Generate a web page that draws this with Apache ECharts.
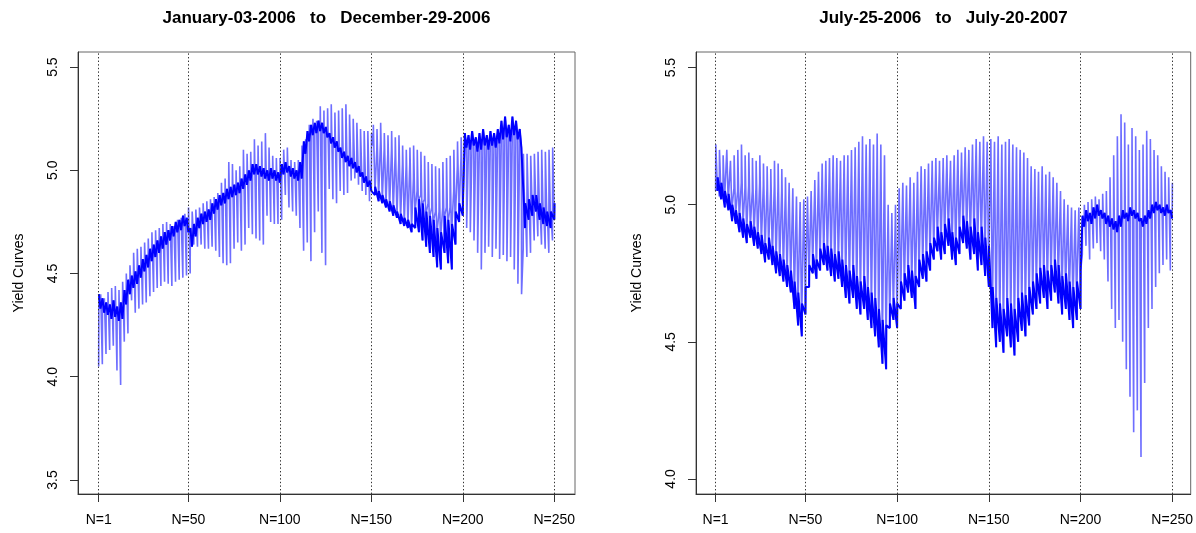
<!DOCTYPE html>
<html>
<head>
<meta charset="utf-8">
<script src="https://cdn.jsdelivr.net/npm/echarts@6/dist/echarts.min.js"></script>
<style>
html,body{margin:0;padding:0;background:#fff;}
#c{width:1196px;height:533px;}
</style>
</head>
<body>
<div id="c"></div>
<script>
// ---------- data ----------
const leftTitle = 'January-03-2006   to   December-29-2006';
const rightTitle = 'July-25-2006   to   July-20-2007';
const tickDays = [1, 50, 100, 150, 200, 250];
const tickLabels = ['N=1', 'N=50', 'N=100', 'N=150', 'N=200', 'N=250'];
const leftYTicks = [3.5, 4.0, 4.5, 5.0, 5.5];
const rightYTicks = [4.0, 4.5, 5.0, 5.5];
const firstDay = 1;
const dayStep = 2; // one curve drawn for every second trading day

// left panel: yields per curve (short end, 6m, 2y, long end)
const L_m1 = [4.05,4.06,4.11,4.13,4.15,4.03,3.96,4.17,4.21,4.37,4.31,4.33,4.35,4.36,4.39,4.41,4.43,4.44,4.46,4.45,4.44,4.46,4.47,4.48,4.49,
  4.50,4.64,4.63,4.64,4.62,4.62,4.63,4.61,4.58,4.55,4.54,4.55,4.62,4.65,4.61,4.64,4.72,4.69,4.67,4.66,4.64,4.78,4.75,4.74,4.74,
  4.76,4.88,4.82,4.80,4.78,4.72,4.61,4.65,4.56,4.70,4.80,4.60,4.54,4.91,4.86,4.84,4.90,4.88,4.89,4.95,4.96,4.93,4.90,4.88,4.85,
  5.12,5.10,5.14,5.10,5.08,5.10,5.07,5.05,5.03,5.02,5.03,4.96,4.90,4.88,4.86,4.84,4.82,4.80,4.80,4.82,4.82,4.82,4.90,5.02,5.06,
  5.10,5.08,5.11,5.09,5.10,5.11,5.10,5.12,5.11,5.12,5.14,5.15,5.13,5.15,5.14,5.10,4.62,4.58,4.60,4.66,4.68,4.64,4.62,4.60,4.66];
const L_m6 = [4.40,4.38,4.36,4.35,4.37,4.34,4.36,4.42,4.47,4.49,4.51,4.54,4.57,4.59,4.62,4.64,4.66,4.68,4.70,4.71,4.73,4.75,4.76,4.78,4.77,
  4.72,4.74,4.77,4.79,4.80,4.81,4.84,4.86,4.88,4.89,4.91,4.92,4.93,4.94,4.96,4.98,5.00,5.03,5.03,5.02,5.01,5.00,5.01,5.00,4.99,
  5.03,5.04,5.02,5.01,5.00,5.04,5.14,5.19,5.22,5.23,5.24,5.23,5.21,5.18,5.16,5.14,5.11,5.09,5.07,5.06,5.04,5.02,4.99,4.97,4.95,
  5.22,5.20,5.23,5.18,5.17,5.19,5.16,5.17,5.12,5.10,5.11,5.12,5.10,5.09,5.07,5.04,5.03,5.02,5.01,5.04,5.06,5.07,5.10,5.14,5.16,
  5.18,5.17,5.19,5.16,5.18,5.20,5.17,5.19,5.18,5.20,5.24,5.26,5.22,5.26,5.24,5.20,5.08,5.08,5.07,5.08,5.09,5.10,5.09,5.10,5.11];
const L_y2 = [4.33,4.31,4.30,4.28,4.29,4.27,4.28,4.35,4.40,4.43,4.45,4.48,4.51,4.53,4.56,4.58,4.60,4.62,4.64,4.66,4.68,4.70,4.71,4.73,4.70,
  4.63,4.68,4.72,4.74,4.75,4.76,4.79,4.81,4.83,4.84,4.86,4.87,4.88,4.89,4.91,4.93,4.95,4.98,4.98,4.97,4.96,4.95,4.96,4.95,4.94,
  4.98,4.99,4.97,4.96,4.95,4.96,5.08,5.14,5.17,5.18,5.19,5.18,5.16,5.13,5.11,5.09,5.06,5.04,5.02,5.01,4.99,4.97,4.94,4.92,4.90,
  4.88,4.85,4.84,4.82,4.80,4.78,4.77,4.74,4.73,4.72,4.70,4.72,4.70,4.66,4.63,4.60,4.58,4.53,4.52,4.60,4.55,4.52,4.64,4.75,4.78,
  5.11,5.10,5.12,5.09,5.10,5.12,5.10,5.12,5.11,5.13,5.15,5.16,5.14,5.17,5.15,5.11,4.72,4.76,4.78,4.80,4.76,4.74,4.73,4.72,4.76];
const L_y30 = [4.40,4.38,4.41,4.43,4.44,4.42,4.46,4.50,4.54,4.60,4.62,4.63,4.65,4.67,4.70,4.71,4.72,4.74,4.75,4.74,4.73,4.76,4.77,4.79,4.82,
  4.80,4.81,4.82,4.84,4.85,4.86,4.87,4.89,4.94,4.96,5.04,5.03,5.00,5.02,5.10,5.08,5.09,5.15,5.12,5.14,5.18,5.11,5.07,5.06,5.06,
  5.10,5.11,5.05,5.04,5.05,5.12,5.15,5.22,5.25,5.24,5.31,5.29,5.30,5.32,5.28,5.29,5.30,5.32,5.27,5.25,5.23,5.20,5.19,5.19,5.18,
  4.92,4.90,4.88,4.86,4.85,4.83,4.80,4.79,4.77,4.76,4.74,4.82,4.86,4.84,4.80,4.78,4.76,4.72,4.70,4.78,4.76,4.74,4.80,4.84,4.86,
  4.72,4.70,4.66,4.60,4.52,4.60,4.63,4.58,4.62,4.57,4.59,4.56,4.58,4.52,4.45,4.40,4.84,4.86,4.88,4.88,4.84,4.82,4.80,4.80,4.84];

// right panel
const R_m1 = [5.05,5.03,5.02,5.05,5.04,5.06,5.05,5.08,5.06,5.07,5.05,5.06,5.08,5.07,5.06,5.05,5.07,5.06,5.05,5.04,5.05,5.03,5.00,4.98,4.99,
  5.00,5.02,5.05,5.08,5.10,5.12,5.13,5.14,5.13,5.12,5.14,5.13,5.14,5.15,5.17,5.18,5.17,5.18,5.17,5.16,5.15,5.12,4.95,4.92,4.95,
  5.02,5.05,5.04,5.06,5.03,5.08,5.10,5.09,5.11,5.12,5.13,5.12,5.13,5.14,5.13,5.15,5.16,5.15,5.17,5.16,5.18,5.20,5.19,5.20,5.19,
  5.18,5.19,5.20,5.18,5.17,5.19,5.18,5.17,5.16,5.15,5.12,5.10,5.09,5.08,5.10,5.07,5.08,5.06,5.04,5.02,4.99,4.97,4.96,4.95,4.96,
  4.82,4.85,4.80,4.84,4.86,4.83,4.80,4.72,4.62,4.55,4.58,4.50,4.40,4.30,4.17,4.25,4.08,4.35,4.55,4.62,4.70,4.75,4.78,4.80,4.76];
const R_m6 = [5.22,5.20,5.18,5.20,5.16,5.18,5.20,5.22,5.18,5.19,5.17,5.16,5.18,5.15,5.14,5.13,5.16,5.15,5.13,5.10,5.08,5.06,5.03,5.01,5.02,
  5.03,5.05,5.09,5.12,5.15,5.16,5.17,5.18,5.17,5.16,5.18,5.18,5.20,5.21,5.23,5.25,5.22,5.24,5.22,5.26,5.22,5.18,5.00,4.97,5.00,
  5.06,5.08,5.07,5.10,5.08,5.12,5.14,5.13,5.15,5.16,5.17,5.16,5.17,5.18,5.16,5.18,5.20,5.19,5.21,5.20,5.22,5.24,5.23,5.25,5.23,
  5.24,5.23,5.25,5.22,5.23,5.24,5.22,5.21,5.20,5.19,5.17,5.14,5.13,5.12,5.14,5.11,5.12,5.10,5.08,5.05,5.02,5.00,4.99,4.98,4.99,
  4.96,4.98,4.97,4.99,5.00,4.98,4.97,4.96,4.95,4.94,4.96,4.98,4.97,4.99,4.98,4.97,4.95,4.96,4.98,5.00,5.01,5.00,4.99,5.00,4.98];
const R_y2 = [5.05,5.02,4.99,4.98,4.94,4.93,4.90,4.88,4.86,4.88,4.85,4.84,4.82,4.79,4.80,4.78,4.75,4.74,4.72,4.70,4.68,4.62,4.56,4.52,4.60,
  4.70,4.75,4.73,4.76,4.78,4.76,4.74,4.72,4.73,4.70,4.66,4.64,4.66,4.62,4.60,4.62,4.58,4.55,4.52,4.48,4.42,4.40,4.55,4.58,4.55,
  4.62,4.65,4.68,4.66,4.62,4.70,4.73,4.72,4.76,4.80,4.83,4.80,4.82,4.85,4.80,4.78,4.82,4.86,4.84,4.80,4.82,4.76,4.78,4.74,4.70,
  4.55,4.48,4.50,4.46,4.52,4.48,4.45,4.50,4.54,4.52,4.56,4.60,4.62,4.64,4.66,4.62,4.65,4.68,4.64,4.60,4.62,4.58,4.55,4.58,4.62,
  4.92,4.94,4.93,4.95,4.96,4.95,4.93,4.92,4.91,4.90,4.92,4.95,4.94,4.96,4.95,4.94,4.92,4.93,4.95,4.97,4.98,4.97,4.96,4.97,4.95];
const R_y30 = [5.10,5.08,5.05,5.04,5.00,4.98,4.97,4.95,4.93,4.94,4.92,4.90,4.89,4.86,4.88,4.85,4.83,4.82,4.80,4.78,4.76,4.72,4.68,4.64,4.70,
  4.78,4.82,4.80,4.84,4.86,4.85,4.84,4.82,4.83,4.80,4.78,4.76,4.78,4.74,4.72,4.74,4.70,4.68,4.66,4.62,4.58,4.56,4.64,4.66,4.64,
  4.72,4.75,4.78,4.76,4.74,4.80,4.82,4.83,4.86,4.88,4.92,4.90,4.93,4.95,4.90,4.88,4.92,4.96,4.94,4.92,4.95,4.90,4.92,4.88,4.85,
  4.70,4.66,4.64,4.62,4.66,4.64,4.62,4.66,4.68,4.67,4.70,4.72,4.75,4.77,4.78,4.76,4.78,4.80,4.78,4.74,4.75,4.72,4.70,4.72,4.76,
  5.00,5.01,5.02,5.03,5.02,5.04,5.05,5.10,5.18,5.25,5.33,5.30,5.22,5.28,5.25,5.20,5.22,5.27,5.24,5.20,5.18,5.14,5.12,5.10,5.08];

// ---------- build the concatenated curves ----------
const maturityOffsets = [0, 0.1, 1.0, 1.1];
function buildPath(a, b, c, d) {
  const pts = [];
  for (let i = 0; i < a.length; i++) {
    const n = firstDay + i * dayStep;
    const vals = [a[i], b[i], c[i], d[i]];
    for (let k = 0; k < 4; k++) pts.push([n + maturityOffsets[k], vals[k]]);
  }
  return pts;
}
// dark band: the pair of neighbouring maturities that lie closest together
// (where most of a day's curve overlaps itself)
function buildBand(a, b, c, d) {
  const pts = [];
  for (let i = 0; i < a.length; i++) {
    const n = firstDay + i * dayStep;
    if (Math.abs(b[i] - c[i]) <= Math.abs(c[i] - d[i])) {
      pts.push([n + maturityOffsets[1], b[i]], [n + maturityOffsets[2], c[i]]);
    } else {
      pts.push([n + maturityOffsets[2], c[i]], [n + maturityOffsets[3], d[i]]);
    }
  }
  return pts;
}
const leftPath = buildPath(L_m1, L_m6, L_y2, L_y30);
const rightPath = buildPath(R_m1, R_m6, R_y2, R_y30);
const leftBand = buildBand(L_m1, L_m6, L_y2, L_y30);
const rightBand = buildBand(R_m1, R_m6, R_y2, R_y30);

const FONT = 'Liberation Sans, Arial, Helvetica, sans-serif';
const tickMap = {};
tickDays.forEach((d, i) => tickMap[d] = tickLabels[i]);

function xAxisCfg(gi, min, max) {
  return {
    gridIndex: gi, type: 'value', min: min, max: max,
    axisLine: { show: true, onZero: false, lineStyle: { color: '#333', width: 1 } },
    splitLine: { show: false },
    axisTick: { show: true, customValues: tickDays, length: 8, lineStyle: { color: '#333' } },
    axisLabel: { customValues: tickDays, formatter: v => tickMap[v] || '', margin: 19,
      fontSize: 14, color: '#000', fontFamily: FONT }
  };
}
function yAxisCfg(gi, min, max, ticks) {
  return {
    gridIndex: gi, type: 'value', min: min, max: max,
    name: 'Yield Curves', nameLocation: 'middle', nameGap: 52, nameRotate: 90,
    nameTextStyle: { fontSize: 14, color: '#000', fontFamily: FONT },
    axisLine: { show: true, onZero: false, lineStyle: { color: '#333', width: 1 } },
    splitLine: { show: false },
    axisTick: { show: true, customValues: ticks, length: 8, lineStyle: { color: '#333' } },
    axisLabel: { customValues: ticks, formatter: v => v.toFixed(1), rotate: 90, margin: 18,
      fontSize: 14, color: '#000', fontFamily: FONT }
  };
}
function seriesCfg(gi, data) {
  return {
    type: 'line', xAxisIndex: gi, yAxisIndex: gi, data: data,
    showSymbol: false, symbol: 'none', smooth: false, animation: false,
    lineStyle: { color: '#6e6eff', width: 1.6 },
    emphasis: { disabled: true },
    z: 2,
    markLine: {
      silent: true, symbol: ['none', 'none'], animation: false,
      label: { show: false },
      lineStyle: { type: [1.4, 2.2], color: '#333', width: 1 },
      data: tickDays.map(d => ({ xAxis: d }))
    }
  };
}
function bandCfg(gi, data) {
  return {
    type: 'line', xAxisIndex: gi, yAxisIndex: gi, data: data,
    showSymbol: false, symbol: 'none', smooth: false, animation: false,
    lineStyle: { color: '#0000ff', width: 2 },
    emphasis: { disabled: true },
    z: 3
  };
}

const chart = echarts.init(document.getElementById('c'), null, { renderer: 'canvas' });
chart.setOption({
  backgroundColor: '#fff',
  animation: false,
  grid: [
    { left: 78, right: 621, top: 52, bottom: 39, show: true, borderColor: '#666', borderWidth: 1, containLabel: false },
    { left: 696, right: 5, top: 52, bottom: 39, show: true, borderColor: '#666', borderWidth: 1, containLabel: false }
  ],
  xAxis: [xAxisCfg(0, -10.3, 261.3), xAxisCfg(1, -9.7, 260.1)],
  yAxis: [yAxisCfg(0, 3.432, 5.573, leftYTicks), yAxisCfg(1, 3.945, 5.557, rightYTicks)],
  series: [seriesCfg(0, leftPath), bandCfg(0, leftBand), seriesCfg(1, rightPath), bandCfg(1, rightBand)],
  graphic: [
    { type: 'text', x: 326.5, y: 18, style: { text: leftTitle, font: 'bold 17px ' + FONT, fill: '#000', textAlign: 'center', textVerticalAlign: 'middle' } },
    { type: 'text', x: 943.5, y: 18, style: { text: rightTitle, font: 'bold 17px ' + FONT, fill: '#000', textAlign: 'center', textVerticalAlign: 'middle' } }
  ]
});
</script>
</body>
</html>
